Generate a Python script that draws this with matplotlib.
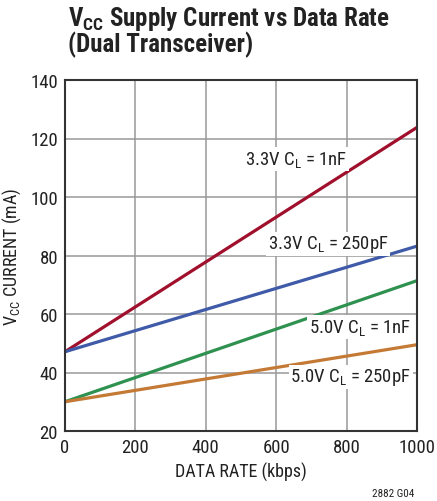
import matplotlib
matplotlib.use("Agg")
import matplotlib.pyplot as plt
from matplotlib import font_manager

names = {f.name for f in font_manager.fontManager.ttflist}
cands = ['Roboto Condensed', 'Arial Narrow', 'Liberation Sans Narrow', 'Nimbus Sans Narrow', 'Roboto']
fam = [n for n in cands if n in names] + ['DejaVu Sans']
plt.rcParams['font.family'] = fam
plt.rcParams['mathtext.default'] = 'regular'

data_rate = [0, 1000]
i_33_1nF = [47.1, 123.8]
i_33_250pF = [47.1, 83.2]
i_50_1nF = [30.0, 71.4]
i_50_250pF = [30.0, 49.5]

series = [
    (i_33_1nF, '#a0102c', '3.3V C$_L$ = 1nF', (656, 113)),
    (i_33_250pF, '#3e5aa8', '3.3V C$_L$ = 250pF', (747, 84)),
    (i_50_1nF, '#2f9150', '5.0V C$_L$ = 1nF', (838, 55.5)),
    (i_50_250pF, '#c47a35', '5.0V C$_L$ = 250pF', (812, 38.5)),
]
xticks = [0, 200, 400, 600, 800, 1000]
yticks = [20, 40, 60, 80, 100, 120, 140]

W, H = 437, 502
fig = plt.figure(figsize=(W/100, H/100), dpi=100)
ax = fig.add_axes([65/W, 1-432/H, (417-65)/W, (432-81)/H])

for ys, c, lab, pos in series:
    ax.plot(data_rate, ys, color=c, lw=2.3, solid_capstyle='butt', zorder=3)
for ys, c, lab, pos in series:
    ax.text(pos[0], pos[1], lab, ha='center', va='center', fontsize=13.5,
            color='#222222', zorder=4,
            bbox=dict(facecolor='white', edgecolor='none', pad=1.2))

ax.set_xlim(0, 1000)
ax.set_ylim(20, 140)
ax.set_xticks(xticks)
ax.set_yticks(yticks)
ax.tick_params(length=0, labelsize=13.5, colors='#222222', pad=5)
ax.grid(True, color='#999999', lw=1.1, zorder=1)
for s in ax.spines.values():
    s.set_color('#333333')
    s.set_linewidth(1.5)
    s.set_zorder(5)

ax.set_xlabel('DATA RATE (kbps)', fontsize=13, color='#222222', labelpad=4)
ax.set_ylabel('V$_{CC}$ CURRENT (mA)', fontsize=13, color='#222222', labelpad=5)

fig.text(68/W, 1-5/H, 'V$_{CC}$ Supply Current vs Data Rate\n(Dual Transceiver)',
         ha='left', va='top', fontsize=18, fontweight='bold', color='#222222',
         linespacing=0.95)
fig.text(414/W, 1-494/H, '2882 G04', ha='right', va='center', fontsize=8,
         color='#222222')

fig.savefig('out.png', dpi=100)
